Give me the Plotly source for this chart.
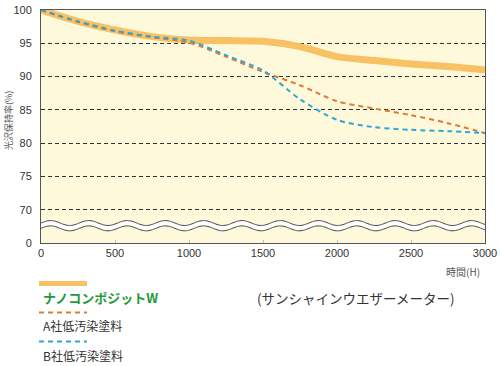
import numpy as np
import plotly.graph_objects as go

hours = [0, 250, 500, 750, 1000, 1250, 1500, 1750, 2000, 2250, 2500, 2750, 3000]
nano_w = [100, 98.3, 97.0, 96.0, 95.5, 95.4, 95.3, 94.5, 93.0, 92.4, 91.9, 91.5, 91.0]
company_a = [100, 98.2, 96.8, 95.9, 95.1, 93.0, 90.7, 88.7, 86.3, 85.2, 84.2, 83.0, 81.5]
company_b = [100, 98.3, 96.9, 96.0, 95.4, 93.2, 90.9, 86.6, 83.5, 82.4, 82.0, 81.8, 81.5]

y_tickvals = [65, 70, 75, 80, 85, 90, 95, 100]
y_ticktext = ["0", "70", "75", "80", "85", "90", "95", "100"]
x_tickvals = [0, 500, 1000, 1500, 2000, 2500, 3000]

names = ["ナノコンポジットW", "A社低汚染塗料", "B社低汚染塗料"]

FONT = "Liberation Sans, Arial, Noto Sans CJK JP"
JP = "Noto Sans CJK JP, Liberation Sans"

fig = go.Figure()
fig.add_trace(go.Scatter(x=hours, y=nano_w, mode="lines", name=names[0],
                         line=dict(color="#F8C264", width=7, shape="spline", smoothing=0.8)))
fig.add_trace(go.Scatter(x=hours, y=company_a, mode="lines", name=names[1],
                         line=dict(color="#DE7A32", width=2, dash="5px,4px", shape="spline", smoothing=0.8)))
fig.add_trace(go.Scatter(x=hours, y=company_b, mode="lines", name=names[2],
                         line=dict(color="#2DA6D8", width=2, dash="5px,4px", shape="spline", smoothing=0.8)))

# axis break (wavy band)
xs = np.linspace(-30, 3030, 400)
period = 3000 / 11.6
amp = 0.37
up = 68.0 + amp * np.sin(2 * np.pi * xs / period)
lo = 67.2 + amp * np.sin(2 * np.pi * xs / period)
band = "M " + " L ".join(f"{x:.1f},{y:.3f}" for x, y in zip(xs, up))
band += " L " + " L ".join(f"{x:.1f},{y:.3f}" for x, y in zip(xs[::-1], lo[::-1])) + " Z"
fig.add_shape(type="path", path=band, xref="x", yref="y", fillcolor="white",
              line=dict(width=0), layer="above")
for arr in (up, lo):
    p = "M " + " L ".join(f"{x:.1f},{y:.3f}" for x, y in zip(xs, arr))
    fig.add_shape(type="path", path=p, xref="x", yref="y",
                  line=dict(color="#444", width=1), layer="above")

# custom legend
def px_to_paper(px, py):
    return (px - 41) / 444, (243 - py) / 233

lx0, ly = px_to_paper(39, 283.5)
lx1, _ = px_to_paper(87, 283.5)
fig.add_shape(type="line", xref="paper", yref="paper", x0=lx0, x1=lx1, y0=ly, y1=ly,
              line=dict(color="#F8C264", width=5))
_, ly2 = px_to_paper(0, 312.5)
fig.add_shape(type="line", xref="paper", yref="paper", x0=lx0, x1=lx1, y0=ly2, y1=ly2,
              line=dict(color="#DE7A32", width=2, dash="5px,4px"))
_, ly3 = px_to_paper(0, 341.5)
fig.add_shape(type="line", xref="paper", yref="paper", x0=lx0, x1=lx1, y0=ly3, y1=ly3,
              line=dict(color="#2DA6D8", width=2, dash="5px,4px"))

tx, ty1 = px_to_paper(41, 297)
_, ty2 = px_to_paper(0, 326)
_, ty3 = px_to_paper(0, 355)
fig.add_annotation(text="<b>" + names[0] + "</b>", xref="paper", yref="paper", x=tx, y=ty1,
                   xanchor="left", yanchor="middle", showarrow=False,
                   font=dict(family=JP, size=13, color="#1E9A3C"))
fig.add_annotation(text=names[1], xref="paper", yref="paper", x=tx, y=ty2,
                   xanchor="left", yanchor="middle", showarrow=False,
                   font=dict(family=JP, size=12, color="#333"))
fig.add_annotation(text=names[2], xref="paper", yref="paper", x=tx, y=ty3,
                   xanchor="left", yanchor="middle", showarrow=False,
                   font=dict(family=JP, size=12, color="#333"))

sx, sy = px_to_paper(255, 298)
fig.add_annotation(text="(サンシャインウエザーメーター)", xref="paper", yref="paper", x=sx, y=sy,
                   xanchor="left", yanchor="middle", showarrow=False,
                   font=dict(family=JP, size=13.5, color="#333"))
hx, hy = px_to_paper(482, 271)
fig.add_annotation(text="時間(H)", xref="paper", yref="paper", x=hx, y=hy,
                   xanchor="right", yanchor="middle", showarrow=False,
                   font=dict(family=JP, size=10, color="#555"))
yx, yy = px_to_paper(9, 121)
fig.add_annotation(text="光沢保持率(%)", xref="paper", yref="paper", x=yx, y=yy,
                   xanchor="center", yanchor="middle", showarrow=False, textangle=-90,
                   font=dict(family=JP, size=9, color="#555"))

fig.update_layout(
    width=500, height=366,
    margin=dict(l=41, r=15, t=10, b=123, autoexpand=False),
    paper_bgcolor="white", plot_bgcolor="#FFF9DB",
    showlegend=False,
    font=dict(family=FONT, size=11, color="#333"),
)
fig.update_xaxes(range=[0, 3000], tickvals=x_tickvals, showgrid=False, zeroline=False,
                 showline=True, linecolor="#555", linewidth=1, mirror=True,
                 ticks="inside", ticklen=3, tickcolor="#bbb", automargin=False,
                 tickfont=dict(family=FONT, size=11, color="#333"))
fig.update_yaxes(range=[65, 100], tickvals=y_tickvals, ticktext=y_ticktext,
                 showgrid=True, gridcolor="#333", griddash="4px,3px", gridwidth=1,
                 zeroline=False, showline=True, linecolor="#555", linewidth=1, mirror=True,
                 ticks="", ticklabelstandoff=6, automargin=False,
                 tickfont=dict(family=FONT, size=11, color="#333"))

fig.write_html("out.html", config={"displayModeBar": False},
               post_script="document.body.style.margin='0';document.body.style.overflow='hidden';")
